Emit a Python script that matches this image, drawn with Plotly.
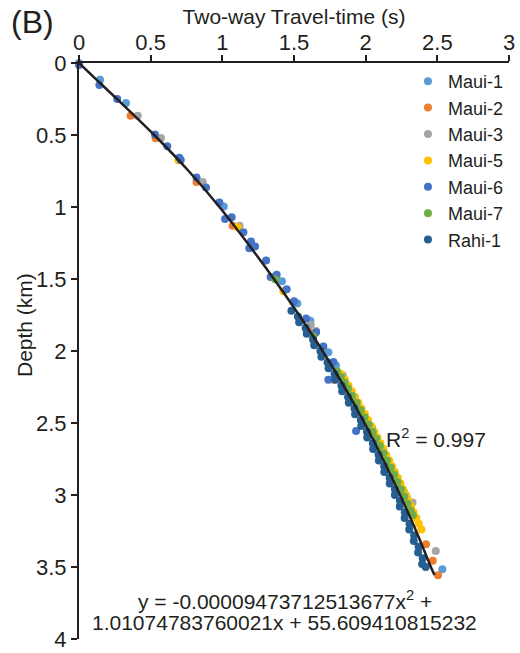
import plotly.graph_objects as go

# ---------------- data ----------------
series_names = ["Maui-1", "Maui-2", "Maui-3", "Maui-5", "Maui-6", "Maui-7", "Rahi-1"]
series_colors = ["#5B9BD5", "#ED7D31", "#A5A5A5", "#FFC000", "#4472C4", "#70AD47", "#255E91"]

maui1_twt = [0.0, 0.147, 0.328, 1.01, 1.416, 1.523, 1.614, 1.74, 1.793, 1.868, 1.942, 2.007, 2.158, 2.198, 2.268, 2.286, 2.535]
maui1_depth = [0.0, 0.117, 0.278, 0.996, 1.516, 1.67, 1.79, 2.008, 2.10, 2.245, 2.367, 2.486, 2.763, 2.843, 2.981, 3.016, 3.515]

maui2_twt = [0.36, 0.535, 0.82, 1.072, 1.60, 1.775, 2.421, 2.468, 2.505]
maui2_depth = [0.366, 0.522, 0.826, 1.13, 1.857, 2.20, 3.342, 3.457, 3.558]

maui3_twt = [0.41, 0.572, 0.863, 1.12, 1.617, 1.654, 1.84, 2.045, 2.123, 2.327, 2.489]
maui3_depth = [0.366, 0.52, 0.826, 1.13, 1.818, 1.861, 2.168, 2.535, 2.682, 3.052, 3.389]

maui5_twt = [0.693, 1.107, 1.426, 1.827, 1.856, 1.880, 1.903, 1.926, 1.949, 1.971, 1.995, 2.017,
             2.038, 2.060, 2.082, 2.103, 2.123, 2.143, 2.165, 2.184, 2.203, 2.224, 2.243, 2.261,
             2.281, 2.298, 2.317, 2.334, 2.353, 2.371, 2.389]
maui5_depth = [0.676, 1.141, 1.585, 2.16, 2.20, 2.24, 2.28, 2.32, 2.36, 2.40, 2.44, 2.48,
               2.52, 2.56, 2.60, 2.64, 2.68, 2.72, 2.76, 2.80, 2.84, 2.88, 2.92, 2.96,
               3.00, 3.04, 3.08, 3.12, 3.16, 3.20, 3.24]

maui6_twt = [0.0, 0.142, 0.267, 0.53, 0.616, 0.70, 0.71, 0.82, 0.886, 0.979, 1.019, 1.065, 1.147,
             1.20, 1.188, 1.228, 1.305, 1.379, 1.337, 1.449, 1.50, 1.584, 1.654, 1.705, 1.775, 1.74, 1.933]
maui6_depth = [0.014, 0.152, 0.25, 0.497, 0.578, 0.658, 0.674, 0.796, 0.865, 0.968, 1.083, 1.072, 1.175,
               1.24, 1.286, 1.274, 1.371, 1.47, 1.486, 1.571, 1.654, 1.774, 1.87, 1.969, 2.077, 2.20, 2.556]

maui7_twt = [1.368, 1.635, 1.800, 1.828, 1.854, 1.877, 1.906, 1.937, 1.965, 1.992, 2.021, 2.048,
             2.073, 2.099, 2.125, 2.150, 2.175, 2.199, 2.223, 2.247, 2.269, 2.293, 2.314, 2.329]
maui7_depth = [1.502, 1.90, 2.14, 2.18, 2.22, 2.26, 2.31, 2.36, 2.41, 2.46, 2.51, 2.56,
               2.61, 2.66, 2.71, 2.76, 2.81, 2.86, 2.91, 2.96, 3.01, 3.06, 3.11, 3.14]

rahi1_twt = [1.482, 1.527, 1.536, 1.581, 1.589, 1.633, 1.641, 1.684, 1.691, 1.734, 1.741, 1.783,
             1.789, 1.831, 1.836, 1.877, 1.882, 1.922, 1.926, 1.966, 1.969, 2.009, 2.011, 2.050,
             2.052, 2.090, 2.092, 2.129, 2.130, 2.167, 2.168, 2.204, 2.204, 2.239, 2.238, 2.273,
             2.272, 2.306, 2.304, 2.338, 2.336, 2.369, 2.366, 2.398, 2.394, 2.419]
rahi1_depth = [1.72, 1.76, 1.80, 1.84, 1.88, 1.92, 1.96, 2.00, 2.04, 2.08, 2.12, 2.16,
               2.20, 2.24, 2.28, 2.32, 2.36, 2.40, 2.44, 2.48, 2.52, 2.56, 2.60, 2.64,
               2.68, 2.72, 2.76, 2.80, 2.84, 2.88, 2.92, 2.96, 3.00, 3.04, 3.08, 3.12,
               3.16, 3.20, 3.24, 3.28, 3.32, 3.36, 3.40, 3.44, 3.48, 3.50]

trend_twt = [0.0, 0.105, 0.265, 0.525, 0.765, 0.98, 1.175, 1.36, 1.535, 1.70, 1.852, 1.992, 2.12, 2.24, 2.352, 2.455, 2.48]
trend_depth = [0.0, 0.1, 0.25, 0.5, 0.75, 1.0, 1.25, 1.5, 1.75, 2.0, 2.25, 2.5, 2.75, 3.0, 3.25, 3.5, 3.556]

x_ticks = [0, 0.5, 1, 1.5, 2, 2.5, 3]
x_tick_labels = ["0", "0.5", "1", "1.5", "2", "2.5", "3"]
y_ticks = [0, 0.5, 1, 1.5, 2, 2.5, 3, 3.5, 4]
y_tick_labels = ["0", "0.5", "1", "1.5", "2", "2.5", "3", "3.5", "4"]

r2_text = "R<sup>2</sup> = 0.997"
eq_line1 = "y = -0.00009473712513677x<sup>2</sup> +"
eq_line2 = "1.01074783760021x + 55.609410815232"

# ---------------- figure ----------------
FONT = "Liberation Sans, Arial, Helvetica, sans-serif"
INK = "#231f20"

all_x = [maui1_twt, maui2_twt, maui3_twt, maui5_twt, maui6_twt, maui7_twt, rahi1_twt]
all_y = [maui1_depth, maui2_depth, maui3_depth, maui5_depth, maui6_depth, maui7_depth, rahi1_depth]

fig = go.Figure()
for name, color, xs, ys in zip(series_names, series_colors, all_x, all_y):
    fig.add_trace(go.Scatter(
        x=xs, y=ys, mode="markers", name=name,
        marker=dict(color=color, size=8, line=dict(width=0)),
        cliponaxis=False,
    ))

fig.add_trace(go.Scatter(
    x=trend_twt, y=trend_depth, mode="lines", showlegend=False,
    line=dict(color=INK, width=2.5, shape="spline", smoothing=1.0),
    cliponaxis=False,
))

fig.update_layout(
    width=520, height=653,
    margin=dict(l=79, r=11, t=63, b=14),
    paper_bgcolor="white", plot_bgcolor="white",
    font=dict(family=FONT, size=21, color=INK),
    showlegend=True,
    legend=dict(
        x=0.765, y=1.0, xanchor="left", yanchor="top",
        font=dict(family=FONT, size=18, color=INK),
        bgcolor="rgba(0,0,0,0)", borderwidth=0, itemwidth=30,
    ),
    xaxis=dict(
        side="top", range=[0, 3], tickvals=x_ticks, ticktext=x_tick_labels,
        showline=True, linecolor=INK, linewidth=2,
        ticks="outside", ticklen=6, tickwidth=2, tickcolor=INK,
        showgrid=False, zeroline=False, automargin=False,
        tickfont=dict(family=FONT, size=22, color=INK),
        ticklabelstandoff=-4,
        title=dict(text="Two-way Travel-time (s)", font=dict(family=FONT, size=21, color=INK), standoff=0),
    ),
    yaxis=dict(
        range=[4, 0], tickvals=y_ticks, ticktext=y_tick_labels,
        showline=True, linecolor=INK, linewidth=2,
        ticks="outside", ticklen=6, tickwidth=2, tickcolor=INK,
        showgrid=False, zeroline=False, automargin=False,
        ticklabeloverflow="allow",
        tickfont=dict(family=FONT, size=22, color=INK),
    ),
    annotations=[
        dict(text="(B)", xref="paper", yref="paper", x=-0.163, y=1.071,
             xanchor="left", yanchor="middle", showarrow=False,
             font=dict(family=FONT, size=32, color=INK)),
        dict(text="Depth (km)", xref="paper", yref="paper", x=-0.128, y=0.545,
             xanchor="center", yanchor="middle", showarrow=False, textangle=-90,
             font=dict(family=FONT, size=21, color=INK)),
        dict(text=r2_text, xref="paper", yref="paper", x=0.83, y=0.349,
             xanchor="center", yanchor="middle", showarrow=False,
             font=dict(family=FONT, size=21, color=INK)),
        dict(text=eq_line1, xref="paper", yref="paper", x=0.479, y=0.0677,
             xanchor="center", yanchor="middle", showarrow=False,
             font=dict(family=FONT, size=21, color=INK)),
        dict(text=eq_line2, xref="paper", yref="paper", x=0.479, y=0.0278,
             xanchor="center", yanchor="middle", showarrow=False,
             font=dict(family=FONT, size=21, color=INK)),
    ],
)

fig.write_html("out.html")
